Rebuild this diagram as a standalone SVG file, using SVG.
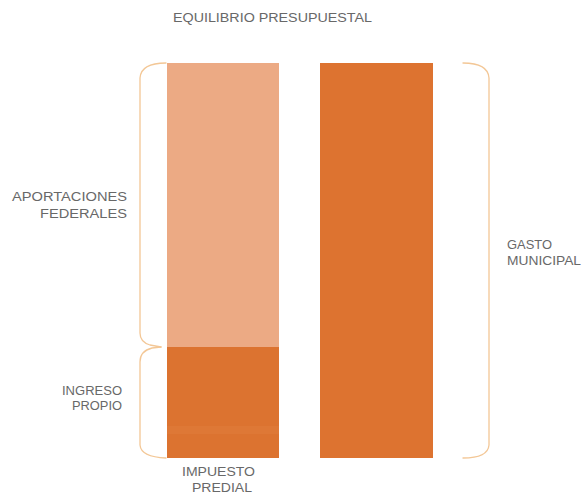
<svg xmlns="http://www.w3.org/2000/svg" width="586" height="496" viewBox="0 0 586 496">
<style>
.t{font-family:"Liberation Sans",Arial,sans-serif;font-size:12px;fill:#686868;}
.br{fill:none;stroke:#F3C796;stroke-width:1.3;stroke-linecap:round;stroke-linejoin:round;}
</style>
<rect width="586" height="496" fill="#ffffff"/>
<g id="title"><text class="t" x="173" y="22" textLength="199" lengthAdjust="spacingAndGlyphs">EQUILIBRIO PRESUPUESTAL</text></g>
<g id="aportaciones-bar"><rect x="167" y="63" width="112" height="284" fill="#ECAA84"/></g>
<g id="ingreso-bar"><rect x="167" y="347" width="112" height="111" fill="#DC7330"/><rect x="167" y="426" width="112" height="8" fill="#DE7836"/></g>
<g id="gasto-bar"><rect x="320" y="63" width="113" height="395" fill="#DD7330"/></g>
<g id="connectors">
<path class="br" d="M166,63 Q141,63 140,78 L140,333 Q140,342 150,345 L161,347"/>
<path class="br" d="M161,347 L152,348 Q140,351 140,362 L140,445 Q141,457 166,458"/>
<path class="br" d="M463,63 Q488,63 489,78 L489,445 Q488,458 463,458"/>
</g>
<g id="aportaciones-label">
<text class="t" x="12" y="201" textLength="115" lengthAdjust="spacingAndGlyphs">APORTACIONES</text>
<text class="t" x="40" y="218" textLength="87" lengthAdjust="spacingAndGlyphs">FEDERALES</text>
</g>
<g id="ingreso-label">
<text class="t" x="62" y="395" textLength="60" lengthAdjust="spacingAndGlyphs">INGRESO</text>
<text class="t" x="72" y="410" textLength="50" lengthAdjust="spacingAndGlyphs">PROPIO</text>
</g>
<g id="gasto-label">
<text class="t" x="507" y="249" textLength="45" lengthAdjust="spacingAndGlyphs">GASTO</text>
<text class="t" x="507" y="265" textLength="74" lengthAdjust="spacingAndGlyphs">MUNICIPAL</text>
</g>
<g id="predial-label">
<text class="t" x="182" y="476" textLength="73" lengthAdjust="spacingAndGlyphs">IMPUESTO</text>
<text class="t" x="192" y="492" textLength="60" lengthAdjust="spacingAndGlyphs">PREDIAL</text>
</g>
</svg>
